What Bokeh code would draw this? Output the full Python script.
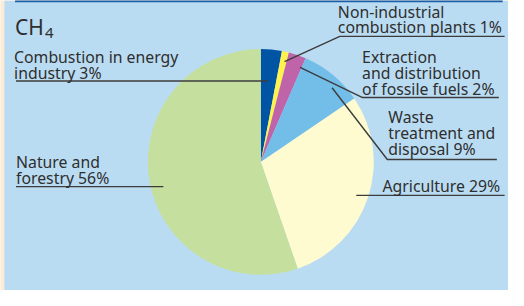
import math
from bokeh.plotting import figure
from bokeh.models import Range1d
from bokeh.core.properties import value
from bokeh.embed import file_html
from bokeh.resources import INLINE

# ---- data ----
categories = ["Combustion in energy industry", "Non-industrial combustion plants",
              "Extraction and distribution of fossile fuels", "Waste treatment and disposal",
              "Agriculture", "Nature and forestry"]
label_values = [3, 1, 2, 9, 29, 56]           # printed percentages
wedge_values = [3.0, 1.0, 2.5, 9.0, 29.2, 55.3]  # slice sizes
colors = ["#0054a4", "#fff24f", "#c064aa", "#72bee8", "#fffbd0", "#c5df9e"]
label_lines = [
    ["Combustion in energy", "industry 3%"],
    ["Non-industrial", "combustion plants 1%"],
    ["Extraction", "and distribution", "of fossile fuels 2%"],
    ["Waste", "treatment and", "disposal 9%"],
    ["Agriculture 29%"],
    ["Nature and", "forestry 56%"],
]

# ---- layout (reference pixel space, y downwards) ----
W, H = 524, 306
S = 508 / W
VIS_H = 290 / S
TEXT_SHIFT = -4.5

def Y(py):
    return H - py

p = figure(width=508, height=290, output_backend="svg", toolbar_location=None,
           x_range=Range1d(0, W), y_range=Range1d(H - VIS_H, H),
           min_border=0, outline_line_color=None)
p.axis.visible = False
p.grid.visible = False
p.background_fill_color = "#fdebd6"
p.border_fill_color = "#fdebd6"

# blue panel + top rule
p.quad(left=4, right=W, bottom=Y(310), top=Y(0), fill_color="#badcf3", line_color=None)
p.quad(left=15, right=518, bottom=Y(1.8), top=Y(-2), fill_color="#1b5ea6", line_color=None)

# pie
cx, cy, r = 268.5, Y(166.5), 116.5
total = sum(wedge_values)
cum = 0.0
starts, ends = [], []
for v in wedge_values:
    starts.append(math.pi / 2 - 2 * math.pi * cum / total)
    cum += v
    ends.append(math.pi / 2 - 2 * math.pi * cum / total)
p.wedge(x=[cx] * len(wedge_values), y=[cy] * len(wedge_values), radius=r,
        start_angle=starts, end_angle=ends, direction="clock",
        fill_color=colors, line_color=None)

# leader lines
leaders = [
    [(16, 83), (276, 83)],
    [(520, 37), (350, 37), (293, 63)],
    [(514, 100), (373, 100), (309, 69)],
    [(342, 90), (399, 164), (512, 164)],
    [(367, 201), (520, 201)],
    [(16, 192), (168, 192)],
]
p.multi_line(xs=[[a for a, b in L] for L in leaders],
             ys=[[Y(b) for a, b in L] for L in leaders],
             line_color="#3c3c3c", line_width=1.4)

# labels
label_pos = [(14, 63), (348, 16), (373, 63), (400, 125), (394, 196), (16, 171)]
line_gap = 16.3
xs, ys, ts = [], [], []
for (lx, ly), lines in zip(label_pos, label_lines):
    for i, t in enumerate(lines):
        xs.append(lx)
        ys.append(Y(ly + i * line_gap + TEXT_SHIFT))
        ts.append(t)
p.text(x=xs, y=ys, text=ts, text_font=value("Noto Sans"), text_font_size="15.8px",
       text_color="#2e2e2e", text_baseline="alphabetic", text_align="left")

# title CH4
p.text(x=[15], y=[Y(32 + TEXT_SHIFT)], text=["CH"], text_font=value("Noto Sans"),
       text_font_size="21px", text_color="#2e2e2e", text_baseline="alphabetic")
p.text(x=[46], y=[Y(38 + TEXT_SHIFT)], text=["4"], text_font=value("Noto Sans"),
       text_font_size="15px", text_color="#2e2e2e", text_baseline="alphabetic")

open("out.html", "w").write(file_html(p, INLINE))
